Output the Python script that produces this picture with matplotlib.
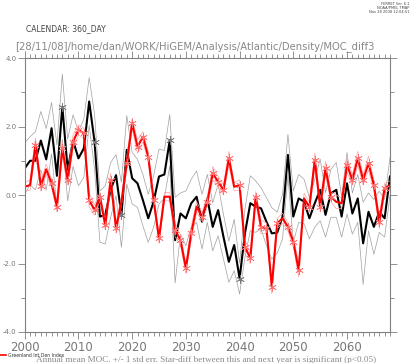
import numpy as np
import matplotlib
matplotlib.use('Agg')
import matplotlib.pyplot as plt
from matplotlib.ticker import MultipleLocator, FixedLocator

years = np.arange(2000, 2069)

# annual mean MOC (black)
moc = [0.78, 1.0, 1.0, 1.59, 1.04, 1.95, 0.56, 2.58, 0.73, 1.59,
       1.07, 1.36, 2.73, 1.56, -0.63, -0.58, 0.15, 0.58, -0.58, 1.32,
       0.49, 0.34, -0.15, -0.68, -0.19, 0.54, 0.6, 1.6, -1.32, -0.54,
       -0.68, -0.24, -0.05, -0.78, -0.1, -0.93, -0.44, -1.22, -1.95, -1.46,
       -2.44, -1.12, -0.24, -0.34, -0.39, -0.78, -1.12, -1.1, -0.63, 1.17,
       -0.63, -0.1, -0.19, -0.68, -0.24, 0.15, -0.58, 0.05, 0.15, -0.63,
       0.34, -0.54, -0.1, -1.41, -0.49, -0.93, -0.49, -0.68, 0.54]

# +/- 1 std err (grey envelope)
moc_err = [0.75, 0.7, 0.85, 0.85, 0.9, 0.75, 0.9, 0.95, 0.9, 0.75,
           0.8, 0.85, 0.7, 0.8, 0.75, 0.85, 0.8, 0.6, 0.95, 1.0,
           0.75, 0.7, 0.75, 0.7, 0.75, 0.8, 0.7, 0.75, 1.25, 0.6,
           0.8, 0.7, 0.75, 0.8, 0.7, 0.7, 0.75, 0.65, 0.6, 0.75,
           0.45, 0.7, 0.8, 0.75, 0.6, 0.7, 0.75, 0.6, 0.65, 0.6,
           0.75, 0.7, 0.65, 0.6, 0.7, 0.9, 0.65, 0.7, 0.8, 0.6,
           0.9, 0.6, 0.7, 1.2, 0.55, 0.8, 0.6, 0.55, 0.55]

# Greenland Int Den Index (red)
gid = [0.24, 0.29, 1.46, 0.26, 0.75, 0.34, -0.34, 1.36, 0.44, 1.56,
       1.9, 1.8, -0.15, -0.44, -0.05, -0.88, 0.44, -0.97, -0.2, 0.93,
       2.1, 1.41, 1.7, 1.12, -0.15, -1.27, -0.05, -0.05, -1.02, -1.32,
       -2.14, -1.12, -0.34, -0.63, -0.19, 0.63, 0.39, 0.15, 1.07, 0.24,
       0.29, -1.51, -1.85, -0.05, -0.93, -0.97, -2.68, -0.83, -0.68, -0.93,
       -1.36, -2.19, -0.1, -0.35, 1.02, -0.34, 0.78, -0.05, -0.2, -0.24,
       0.88, 0.44, 1.07, 0.44, 0.93, 0.29, -0.78, 0.19, 0.29]

gid_err = [0.12, 0.15, 0.2, 0.15, 0.15, 0.12, 0.15, 0.2, 0.15, 0.2,
           0.15, 0.15, 0.2, 0.15, 0.12, 0.15, 0.2, 0.15, 0.12, 0.2,
           0.15, 0.2, 0.15, 0.15, 0.12, 0.15, 0.12, 0.12, 0.2, 0.15,
           0.15, 0.2, 0.15, 0.12, 0.15, 0.2, 0.15, 0.15, 0.2, 0.12,
           0.15, 0.2, 0.15, 0.15, 0.2, 0.15, 0.2, 0.15, 0.15, 0.12,
           0.15, 0.2, 0.15, 0.15, 0.2, 0.15, 0.2, 0.15, 0.2, 0.15,
           0.2, 0.15, 0.2, 0.15, 0.2, 0.15, 0.2, 0.15, 0.12]

moc_star = [7, 13, 18, 27, 40]
gid_star = [2, 3, 5, 6, 7, 8, 9, 10, 11, 12, 13, 14, 15, 16, 17, 19, 20, 21, 22, 23,
            24, 25, 28, 29, 30, 31, 33, 34, 35, 36, 37, 38, 40, 41, 42, 43, 44, 45,
            46, 47, 49, 50, 51, 53, 54, 55, 56, 57, 60, 61, 62, 63, 64, 65, 66, 67]

moc = np.array(moc)
moc_err = np.array(moc_err)
gid = np.array(gid)
gid_err = np.array(gid_err)

fig = plt.figure(figsize=(4.14, 3.63), dpi=100)
ax = fig.add_axes([0.0597, 0.0854, 0.8823, 0.7548])

grey = '#808080'
ax.plot(years, moc + moc_err, color='#a0a0a0', lw=0.5)
ax.plot(years, moc - moc_err, color='#a0a0a0', lw=0.5)
ax.plot(years, moc, color='black', lw=1.5)
ax.plot(years[moc_star], moc[moc_star], ls='none', marker=(6, 2, 0), ms=6,
        mec='#777777', mew=0.5)

ax.plot(years, gid + gid_err, color='#ffa0a0', lw=0.5)
ax.plot(years, gid - gid_err, color='#ffa0a0', lw=0.5)
ax.plot(years, gid, color='red', lw=1.5)
ax.plot(years[gid_star], gid[gid_star], ls='none', marker=(6, 2, 0), ms=6,
        mec='#ff7070', mew=0.5)

ax.set_xlim(2000, 2068)
ax.set_ylim(-4, 4)

ax.xaxis.set_major_locator(FixedLocator([2000, 2010, 2020, 2030, 2040, 2050, 2060]))
ax.xaxis.set_minor_locator(MultipleLocator(1))
ax.yaxis.set_major_locator(MultipleLocator(2))
ax.yaxis.set_minor_locator(MultipleLocator(1))
ax.yaxis.set_major_formatter(plt.FuncFormatter(lambda v, p: '%.1f' % v))

ax.tick_params(which='both', direction='out', color=grey, width=0.6,
               top=True, right=True, labeltop=False, labelright=False)
ax.tick_params(which='major', length=5)
ax.tick_params(which='minor', length=3)
ax.tick_params(axis='x', which='major', labelsize=8.5, labelcolor='#777777', pad=1.5)
ax.tick_params(axis='y', which='major', labelsize=5, labelcolor='#777777', pad=1)
for s in ax.spines.values():
    s.set_color(grey)
    s.set_linewidth(0.8)

fig.text(0.062, 0.915, 'CALENDAR: 360_DAY', fontsize=5.5, color='#444444')
fig.text(0.036, 0.866, '[28/11/08]/home/dan/WORK/HiGEM/Analysis/Atlantic/Density/MOC_diff3',
         fontsize=7.2, color='#888888')
fig.text(0.99, 0.995, 'FERRET Ver. 6.1\nNOAA/PMEL TMAP\nNov 28 2008 12:04:51',
         fontsize=2.6, color='#444444', ha='right', va='top', linespacing=1.1)

fig.add_artist(plt.Line2D([0.0, 0.014], [0.022, 0.022], color='red', lw=1.2))
fig.text(0.02, 0.016, 'Greenland Int Den Index', fontsize=3.3, color='#333333')
fig.text(0.088, 0.004, 'Annual mean MOC. +/- 1 std err. Star-diff between this and next year is significant (p<0.05)',
         fontsize=6.6, color='#888888', family='Liberation Serif')

fig.savefig('out.png', dpi=100)
